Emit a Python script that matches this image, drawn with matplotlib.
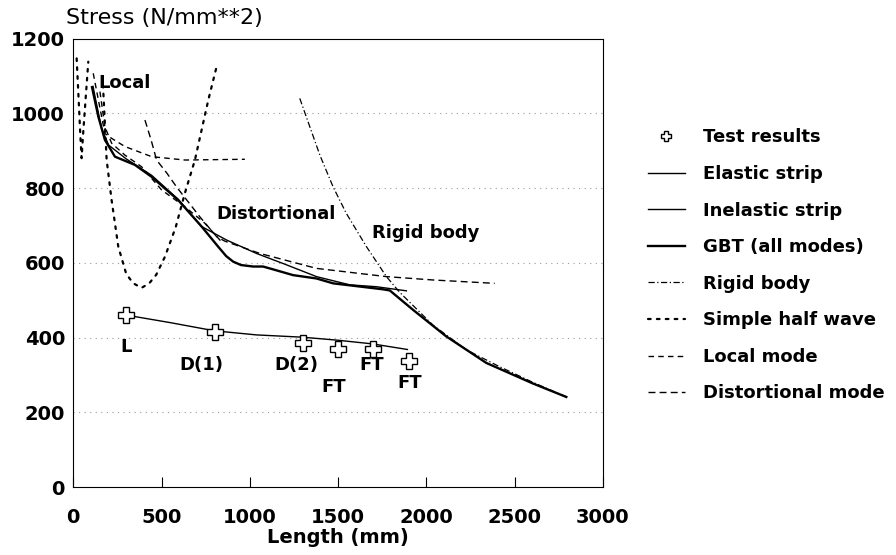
import matplotlib
matplotlib.use('Agg')
import matplotlib.pyplot as plt

plt.rcParams['font.family'] = ['DejaVu Sans']
plt.rcParams['font.weight'] = 'bold'

# test results
test_x = [300, 800, 1300, 1500, 1700, 1900]
test_y = [460, 415, 385, 370, 369, 338]
test_lbl = ['L', 'D(1)', 'D(2)', 'FT', 'FT', 'FT']
lbl_x = [298, 727, 1264, 1476, 1689, 1906]
lbl_y = [375, 326, 326, 268, 326, 277]

# elastic strip
el_x = [112, 125, 160, 200, 300, 444, 594, 727, 868, 1038, 1200, 1378, 1566, 1717, 1887]
el_y = [1072, 1040, 960, 915, 878, 834, 770, 697, 661, 625, 596, 563, 541, 536, 525]

# inelastic strip
inel_x = [300, 548, 800, 1038, 1296, 1494, 1695, 1893]
inel_y = [460, 440, 418, 407, 401, 393, 383, 368]

# GBT (all modes)
gbt_x = [106, 142, 179, 236, 349, 444, 594, 727, 821, 866, 906, 950, 1019, 1075, 1120,
         1245, 1378, 1472, 1755, 1793, 1925, 2113, 2340, 2604, 2793]
gbt_y = [1070, 991, 929, 884, 862, 830, 768, 697, 643, 618, 603, 594, 590, 590, 584,
         567, 558, 545, 529, 526, 474, 403, 332, 277, 241]

# rigid body
rb1_x = [1283, 1397, 1472, 1547, 1661, 1774, 1849, 2038, 2227, 2415, 2604, 2793]
rb1_y = [1040, 888, 803, 732, 643, 563, 521, 433, 367, 322, 280, 241]

# simple half wave (two branches)
hw1_x = [19, 30, 40, 47, 55, 70, 85]
hw1_y = [1147, 1040, 940, 880, 940, 1040, 1138]
hw2_x = [165, 172, 189, 217, 255, 300, 340, 387, 430, 470, 519, 580, 632, 689, 765, 812]
hw2_y = [1100, 1040, 875, 768, 643, 570, 545, 533, 545, 568, 616, 695, 786, 875, 1036, 1125]

# local mode
loc_x = [113, 179, 217, 293, 444, 632, 972]
loc_y = [1107, 946, 933, 911, 884, 875, 877]
loc2_x = [151, 179, 217, 293, 387, 500, 632, 745, 840]
loc2_y = [1058, 964, 920, 888, 857, 795, 750, 706, 656]

# distortional mode
dis_x = [406, 440, 472, 530, 585, 717, 812, 858, 1057, 1378, 1774, 2038, 2387]
dis_y = [982, 930, 875, 840, 803, 723, 670, 658, 625, 585, 563, 554, 545]

fig = plt.figure(figsize=(8.96, 5.55), dpi=100)
ax = fig.add_axes([0.0818, 0.1225, 0.591, 0.808])

for g in [200, 400, 600, 800, 1000]:
    ax.axhline(g, color='0.6', lw=0.8, ls=(0, (1, 4)), zorder=0)

ax.plot(test_x, test_y, ls='none', marker='P', ms=11, mfc='white', mec='black',
        mew=1.0, label='Test results', zorder=5)
ax.plot(el_x, el_y, color='black', lw=1.0, label='Elastic strip')
ax.plot(inel_x, inel_y, color='black', lw=1.0, label='Inelastic strip')
ax.plot(gbt_x, gbt_y, color='black', lw=1.7, label='GBT (all modes)')
ax.plot(rb1_x, rb1_y, color='black', lw=0.9, ls=(0, (5, 2, 1, 2)), label='Rigid body')
ax.plot(hw1_x, hw1_y, color='black', lw=1.6, ls=(0, (1.2, 2.8)),
        dash_capstyle='round', label='Simple half wave')
ax.plot(hw2_x, hw2_y, color='black', lw=1.6, ls=(0, (1.2, 2.8)), dash_capstyle='round')
ax.plot(loc_x, loc_y, color='black', lw=1.0, ls=(0, (4, 3)), label='Local mode')
ax.plot(loc2_x, loc2_y, color='black', lw=1.0, ls=(0, (4, 3)))
ax.plot(dis_x, dis_y, color='black', lw=1.0, ls=(0, (5, 3)), label='Distortional mode')

for t, x, y in zip(test_lbl, lbl_x, lbl_y):
    ax.text(x, y, t, ha='center', va='center', fontsize=13, fontweight='bold')

ax.text(140, 1080, 'Local', ha='left', va='center', fontsize=13, fontweight='bold')
ax.text(812, 730, 'Distortional', ha='left', va='center', fontsize=13, fontweight='bold')
ax.text(1694, 680, 'Rigid body', ha='left', va='center', fontsize=13, fontweight='bold')

ax.set_xlim(0, 3000)
ax.set_ylim(0, 1200)
ax.set_xticks([0, 500, 1000, 1500, 2000, 2500, 3000])
ax.set_yticks([0, 200, 400, 600, 800, 1000, 1200])
ax.tick_params(axis='x', direction='in', length=7, pad=15, labelsize=14)
ax.tick_params(axis='y', direction='in', length=0, pad=6, labelsize=14)
for lab in ax.get_xticklabels() + ax.get_yticklabels():
    lab.set_fontweight('bold')

ax.set_xlabel('Length (mm)', fontsize=14, fontweight='bold', labelpad=1)
fig.text(0.074, 0.967, 'Stress (N/mm**2)', fontsize=16, fontweight='normal',
         ha='left', va='center')

ax.legend(loc='upper left', bbox_to_anchor=(0.7232, 0.7688), bbox_transform=fig.transFigure,
          frameon=False, borderaxespad=0, borderpad=0, fontsize=13,
          handlelength=2.05, handletextpad=1.0, labelspacing=1.03, markerscale=0.7)

fig.savefig('out.png', dpi=100)
